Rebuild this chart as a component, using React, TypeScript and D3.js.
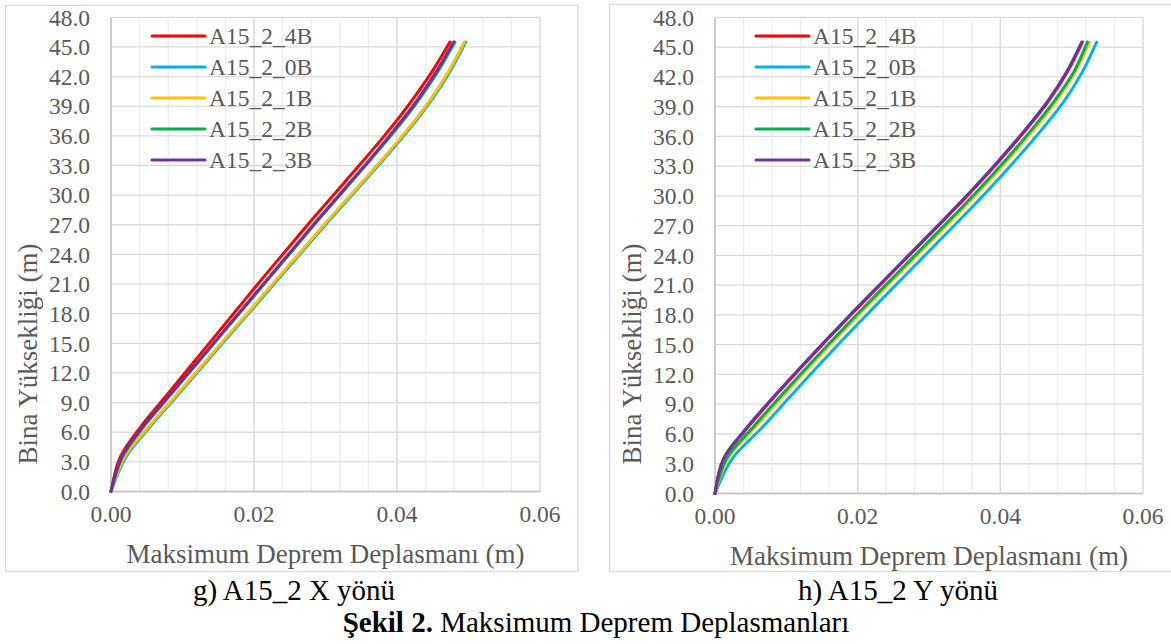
import React from "react";
import * as d3 from "d3";

const heights = [0, 3.5, 6.5, 9.5, 12.5, 15.5, 18.5, 21.5, 24.5, 27.5, 30.5, 33.5, 36.5, 39.5, 42.5, 45.5];

const seriesNames = ["A15_2_4B", "A15_2_0B", "A15_2_1B", "A15_2_2B", "A15_2_3B"];
const seriesColors = ["#FF0000", "#00B0F0", "#FFC000", "#00B050", "#7030A0"];

// X direction (g)
const x4B = [0, 0.0013, 0.0041, 0.0075, 0.0109, 0.0143, 0.0177, 0.0211, 0.0246, 0.0281, 0.0317, 0.0353, 0.0388, 0.0420, 0.0449, 0.0474];
const x0B = [0, 0.0021, 0.0054, 0.0090, 0.0126, 0.0162, 0.0198, 0.0234, 0.0270, 0.0306, 0.0343, 0.0380, 0.0415, 0.0447, 0.0474, 0.0496];
const x1B = [0, 0.0019, 0.0052, 0.0088, 0.0124, 0.0160, 0.0196, 0.0232, 0.0268, 0.0304, 0.0341, 0.0378, 0.0413, 0.0445, 0.0472, 0.0494];
const x2B = [0, 0.0016, 0.0045, 0.0080, 0.0115, 0.0150, 0.0185, 0.0220, 0.0255, 0.0290, 0.0326, 0.0362, 0.0397, 0.0429, 0.0457, 0.0481];
const x3B = [0, 0.0015, 0.0044, 0.0079, 0.0114, 0.0149, 0.0184, 0.0219, 0.0254, 0.0289, 0.0325, 0.0361, 0.0395, 0.0427, 0.0455, 0.0479];

// Y direction (h)
const y4B = [0, 0.0012, 0.0044, 0.0080, 0.0118, 0.0157, 0.0197, 0.0238, 0.0279, 0.0320, 0.0360, 0.0398, 0.0434, 0.0467, 0.0494, 0.0515];
const y0B = [0, 0.0024, 0.0064, 0.0102, 0.0140, 0.0179, 0.0219, 0.0260, 0.0301, 0.0342, 0.0382, 0.0420, 0.0456, 0.0489, 0.0515, 0.0535];
const y1B = [0, 0.0018, 0.0054, 0.0091, 0.0129, 0.0168, 0.0208, 0.0249, 0.0290, 0.0331, 0.0371, 0.0409, 0.0445, 0.0478, 0.0505, 0.0525];
const y2B = [0, 0.0016, 0.0051, 0.0088, 0.0126, 0.0165, 0.0205, 0.0246, 0.0287, 0.0328, 0.0368, 0.0406, 0.0442, 0.0475, 0.0503, 0.0522];
const y3B = [0, 0.0012, 0.0043, 0.0079, 0.0117, 0.0156, 0.0196, 0.0237, 0.0278, 0.0319, 0.0359, 0.0397, 0.0433, 0.0466, 0.0493, 0.0514];

const yTicks = d3.range(0, 48.1, 3);
const xTicks = [0, 0.02, 0.04, 0.06];
const xMinor = d3.range(0, 0.0601, 0.004);

const yTitle = "Bina Yüksekliği (m)";
const xTitle = "Maksimum Deprem Deplasmanı (m)";

const txt = (size: number, color: string) => ({ fontFamily: '"Liberation Serif"', fontSize: size + "px", fill: color });

type ChartProps = {
  box: [number, number, number, number];
  plot: { x0: number; x1: number; y0: number; y1: number };
  data: number[][];
  legendX: number;
  yTitleX: number;
};

function Chart({ box, plot, data, legendX, yTitleX }: ChartProps) {
  const x = d3.scaleLinear().domain([0, 0.06]).range([plot.x0, plot.x1]);
  const y = d3.scaleLinear().domain([0, 48]).range([plot.y1, plot.y0]);
  const line = d3
    .line<[number, number]>()
    .x((d) => x(d[0]))
    .y((d) => y(d[1]))
    .curve(d3.curveCatmullRom.alpha(0.5));
  const midX = (plot.x0 + plot.x1) / 2;
  return (
    <g>
      <rect x={box[0]} y={box[1]} width={box[2]} height={box[3]} fill="#fff" stroke="#d9d9d9" strokeWidth={1.3} />
      {xMinor.map((v, i) => (
        <line key={"m" + i} x1={x(v)} x2={x(v)} y1={plot.y0} y2={plot.y1} stroke="#ededed" strokeWidth={1.3} />
      ))}
      {yTicks.map((v, i) => (
        <line key={"h" + i} x1={plot.x0} x2={plot.x1} y1={y(v)} y2={y(v)} stroke="#d9d9d9" strokeWidth={1.3} />
      ))}
      {xTicks.map((v, i) => (
        <line key={"v" + i} x1={x(v)} x2={x(v)} y1={plot.y0} y2={plot.y1} stroke="#d9d9d9" strokeWidth={1.3} />
      ))}
      <line x1={plot.x0} x2={plot.x0} y1={plot.y0} y2={plot.y1} stroke="#bfbfbf" strokeWidth={1.3} />
      <line x1={plot.x0} x2={plot.x1} y1={plot.y1} y2={plot.y1} stroke="#bfbfbf" strokeWidth={1.3} />
      {yTicks.map((v, i) => (
        <text key={"yt" + i} x={plot.x0 - 21} y={y(v)} dy="0.35em" textAnchor="end" style={txt(23.5, "#595959")}>
          {v.toFixed(1)}
        </text>
      ))}
      {xTicks.map((v, i) => (
        <text key={"xt" + i} x={x(v)} y={plot.y1 + 30} textAnchor="middle" style={txt(23.5, "#595959")}>
          {v.toFixed(2)}
        </text>
      ))}
      <text x={midX} y={plot.y1 + 71} textAnchor="middle" style={txt(27, "#595959")}>
        {xTitle}
      </text>
      <text transform={`translate(${yTitleX},354) rotate(-90)`} textAnchor="middle" dy="0.35em" style={txt(27, "#595959")}>
        {yTitle}
      </text>
      {data.map((vals, si) => (
        <path
          key={"s" + si}
          d={line(vals.map((v, i) => [v, heights[i]] as [number, number])) || ""}
          fill="none"
          stroke={seriesColors[si]}
          strokeWidth={3}
          strokeLinejoin="round"
          strokeLinecap="round"
        />
      ))}
      {seriesNames.map((n, i) => (
        <g key={"l" + i}>
          <line x1={legendX} x2={legendX + 53} y1={36 + i * 31} y2={36 + i * 31} stroke={seriesColors[i]} strokeWidth={3} strokeLinecap="round" />
          <text x={legendX + 57} y={36 + i * 31} dy="0.35em" style={txt(23.5, "#595959")}>
            {n}
          </text>
        </g>
      ))}
    </g>
  );
}

export default function App() {
  return (
    <svg width={1171} height={644} style={{ position: "absolute", left: 0, top: 0, background: "#fff" }}>
      <rect x={0} y={0} width={1171} height={644} fill="#fff" />
      <Chart
        box={[5.5, 5.5, 572.5, 566]}
        plot={{ x0: 111, x1: 540, y0: 17.3, y1: 491.5 }}
        data={[x4B, x0B, x1B, x2B, x3B]}
        legendX={152}
        yTitleX={27.5}
      />
      <Chart
        box={[609.5, 4.5, 566, 567]}
        plot={{ x0: 715, x1: 1143, y0: 17.3, y1: 493.5 }}
        data={[y4B, y0B, y1B, y2B, y3B]}
        legendX={756}
        yTitleX={632}
      />
      <text x={294} y={600} textAnchor="middle" style={txt(29, "#000")}>
        g) A15_2 X yönü
      </text>
      <text x={898} y={600} textAnchor="middle" style={txt(29, "#000")}>
        h) A15_2 Y yönü
      </text>
      <text x={596} y={632} textAnchor="middle" style={txt(29, "#000")}>
        <tspan style={{ fontWeight: "bold" }}>Şekil 2.</tspan> Maksimum Deprem Deplasmanları
      </text>
    </svg>
  );
}
